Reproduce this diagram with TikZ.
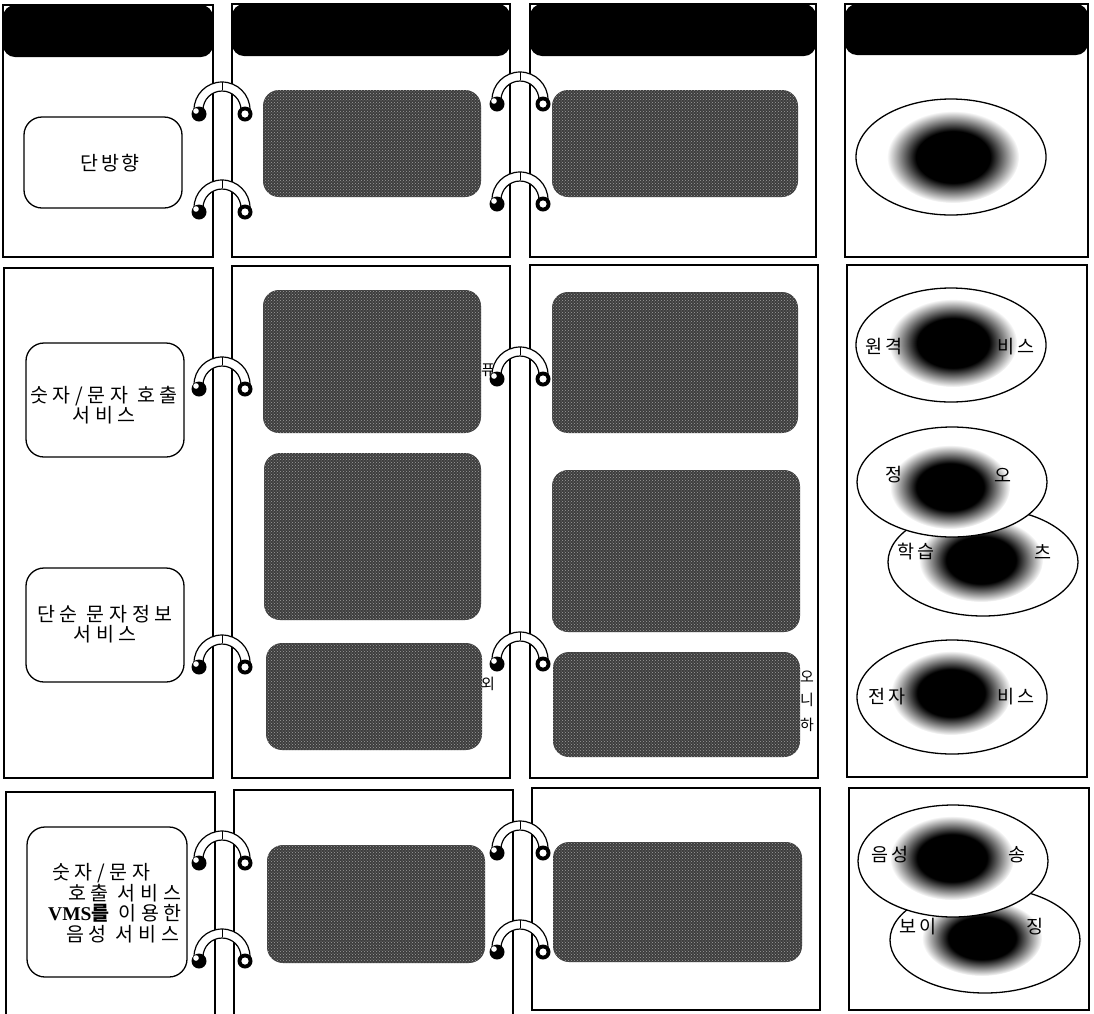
\documentclass[tikz,border=0pt]{standalone}
\usepackage{fontspec}
\setmainfont{Liberation Serif}
\newfontfamily\kr[LetterSpace=24]{Noto Sans CJK KR}
\newfontfamily\krs[LetterSpace=12]{Noto Sans CJK KR}
\newfontfamily\kre[LetterSpace=12]{Noto Sans CJK KR}
\newfontfamily\krf{Noto Sans CJK KR}
\usetikzlibrary{shapes.geometric,fadings,patterns}
\pgfdeclareradialshading{blobshade}{\pgfpointorigin}{color(0bp)=(pgftransparent!0); color(14bp)=(pgftransparent!0); color(25bp)=(pgftransparent!100); color(50bp)=(pgftransparent!100)}
\pgfdeclarefading{blobf}{\pgfuseshading{blobshade}}
\begin{document}
\begin{tikzpicture}[x=1pt, y=-1pt,
  panel/.style={draw=black, line width=1.3pt},
  header/.style={fill=black, rounded corners=12pt},
  graybox/.style={rectangle, rounded corners=16pt, preaction={fill=black!76}, pattern=crosshatch dots, pattern color=black!38, inner sep=0pt},
  svcbox/.style={rectangle, draw, line width=1.3pt, rounded corners=18pt, fill=white, inner sep=0pt},
  ell/.style={ellipse, draw, line width=1.3pt, fill=white, inner sep=0pt},
  lbl/.style={font=\kr\fontsize{19.5}{20.5}\selectfont, inner sep=0pt, align=center},
  elbl/.style={font=\kre\fontsize{18.5}{19}\selectfont, inner sep=0pt},
  frag/.style={font=\krf\fontsize{15}{17}\selectfont, inner sep=0pt},
  blob/.style={fill=black, path fading=blobf},
  bindring/.pic={
    \path[fill=white, draw=black, line width=1.2pt]
      (-28,28) arc[start angle=180, end angle=360, radius=28]
      -- (28,31) -- (19,31) -- (19,28)
      arc[start angle=0, end angle=-180, radius=19]
      -- (-19,31) -- (-28,31) -- cycle;
    \draw[line width=0.9pt] (0,0) -- (0,8);
    \fill[black] (-23,32) circle[radius=7.5];
    \fill[white] (-26,29) circle[radius=2.8];
    \fill[black] (23,32) circle[radius=7.5];
    \fill[white] (23,32) circle[radius=3.6];
  }
]
\useasboundingbox (0,0) rectangle (1094,1013);
\fill[white] (0,0) rectangle (1094,1013);

% ---- row 1 panels with headers
\draw[panel] (3,5) rectangle (213,257);
\draw[panel] (232,4) rectangle (510,257);
\draw[panel] (530,4) rectangle (816,257);
\draw[panel] (845,4) rectangle (1088,257);
\fill[header] (3,5) rectangle (213,57);
\fill[header] (232,4) rectangle (510,56);
\fill[header] (530,4) rectangle (816,56);
\fill[header] (845,4) rectangle (1088,55);

% ---- row 2 panels
\draw[panel] (4,268) rectangle (213,778);
\draw[panel] (232,266) rectangle (510,778);
\draw[panel] (530,265) rectangle (818,778);
\draw[panel] (847,265) rectangle (1087,777);

% ---- row 3 panels
\draw[panel] (6,1014) |- (215,792) -- (215,1014);
\draw[panel] (234,1014) |- (513,790) -- (513,1014);
\draw[panel] (532,788) rectangle (820,1010);
\draw[panel] (849,788) rectangle (1089,1010);

% ---- grey boxes, column 2
\node[graybox, minimum width=218pt, minimum height=107pt] (g1) at (372,143.5) {};
\node[graybox, minimum width=218pt, minimum height=143pt] (g2) at (372,361.5) {};
\node[graybox, minimum width=217pt, minimum height=167pt] (g3) at (372.5,536.5) {};
\node[graybox, minimum width=216pt, minimum height=107pt] (g4) at (374,696.5) {};
\node[graybox, minimum width=218pt, minimum height=118pt] (g5) at (376,904) {};
% ---- grey boxes, column 3
\node[graybox, minimum width=246pt, minimum height=107pt] (h1) at (675,143.5) {};
\node[graybox, minimum width=246pt, minimum height=141pt] (h2) at (675,362.5) {};
\node[graybox, minimum width=248pt, minimum height=162pt] (h3) at (676,551) {};
\node[graybox, minimum width=247pt, minimum height=105pt] (h4) at (676.5,704.5) {};
\node[graybox, minimum width=249pt, minimum height=120pt] (h5) at (677.5,902) {};

% ---- text fragments showing beside the grey boxes
\node[frag] (f1) at (488,370) {퓨};
\node[frag] (f2) at (488,684) {외};
\node[frag] (f3) at (807,677) {오};
\node[frag] (f4) at (807,700) {니};
\node[frag] (f5) at (807,725) {하};

% ---- service boxes, column 1
\node[svcbox, minimum width=158pt, minimum height=91pt] (s1) at (103,162.5) {};
\node[svcbox, minimum width=158pt, minimum height=114pt] (s2) at (105,400) {};
\node[svcbox, minimum width=158pt, minimum height=114pt] (s3) at (105,625) {};
\node[svcbox, minimum width=160pt, minimum height=150pt] (s4) at (107,902) {};

% ---- binder rings
\pic at (222,82) {bindring};
\pic at (222,180) {bindring};
\pic at (222,357) {bindring};
\pic at (222,635) {bindring};
\pic at (222,831) {bindring};
\pic at (222,929) {bindring};
\pic at (520,72) {bindring};
\pic at (520,172) {bindring};
\pic at (520,347) {bindring};
\pic at (520,632) {bindring};
\pic at (520,821) {bindring};
\pic at (520,920) {bindring};

% ---- labels of the service boxes
\node[lbl, font=\krs\fontsize{19.5}{20.5}\selectfont] (t1) at (110,163) {단방향};
\node[lbl] (t2) at (104,405) {숫자/문자 호출\\서비스};
\node[lbl] (t3) at (105,624) {단순 문자정보\\서비스};
\node[lbl, align=left, anchor=west] (t4) at (48,903) {\hspace*{4pt}숫자/문자\\\hspace*{20pt}호출 서비스\\{\rmfamily\bfseries VMS}{\bfseries 를} 이용한\\\hspace*{18pt}음성 서비스};

% ---- column 4 ellipses
\node[ell, minimum width=190pt, minimum height=116pt] (e1) at (951,157) {};
\fill[blob] (953,157) ellipse[x radius=66, y radius=46];

\node[ell, minimum width=190pt, minimum height=114pt] (e2) at (951,345) {};
\node[elbl] (e2a) at (884,347) {원격};
\node[elbl] (e2b) at (1016,347) {비스};
\fill[blob] (953,343) ellipse[x radius=64, y radius=44];

\node[ell, minimum width=190pt, minimum height=108pt] (e4) at (983,562) {};
\node[elbl] (e4a) at (916,552) {학습};
\node[elbl] (e4b) at (1043,552) {츠};
\fill[blob] (981,560) ellipse[x radius=62, y radius=42];

\node[ell, minimum width=190pt, minimum height=110pt] (e3) at (952,482) {};
\node[elbl] (e3a) at (894,475) {정};
\node[elbl] (e3b) at (1003,475) {오};
\fill[blob] (950,487) ellipse[x radius=60, y radius=42];

\node[ell, minimum width=190pt, minimum height=114pt] (e5) at (952,697) {};
\node[elbl] (e5a) at (887,697) {전자};
\node[elbl] (e5b) at (1016,697) {비스};
\fill[blob] (951,693) ellipse[x radius=60, y radius=42];

\node[ell, minimum width=190pt, minimum height=106pt] (e7) at (985,940) {};
\node[elbl] (e7a) at (918,927) {보이};
\node[elbl] (e7b) at (1035,927) {징};
\fill[blob] (982,938) ellipse[x radius=60, y radius=38];

\node[ell, minimum width=190pt, minimum height=112pt] (e6) at (953,861) {};
\node[elbl] (e6a) at (890,855) {음성};
\node[elbl] (e6b) at (1017,855) {송};
\fill[blob] (952,858) ellipse[x radius=62, y radius=42];
\end{tikzpicture}
\end{document}
